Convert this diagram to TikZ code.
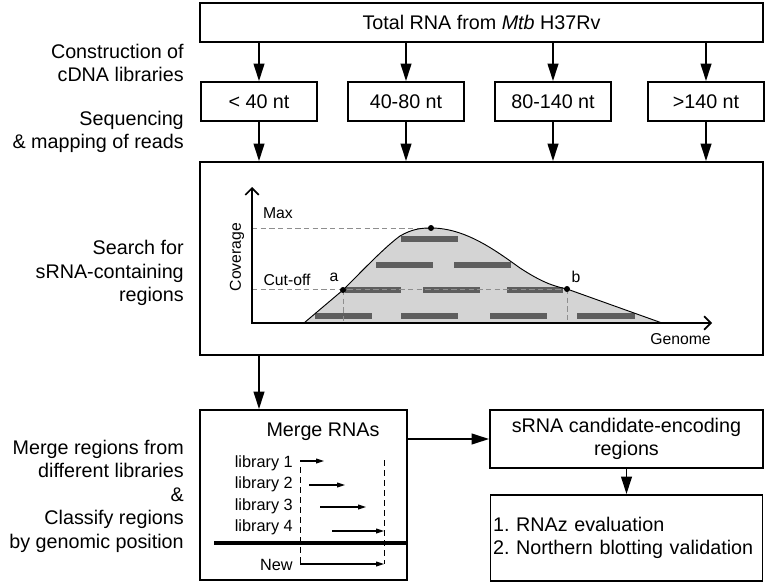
\documentclass[tikz,border=0pt]{standalone}
\usepackage{fontspec}
\setmainfont{Liberation Sans}
\usetikzlibrary{arrows.meta}
\definecolor{areagray}{HTML}{D4D4D4}
\definecolor{readgray}{HTML}{5E5E5E}
\definecolor{guidegray}{HTML}{8E8E8E}
\frenchspacing
\begin{document}
\begin{tikzpicture}
        [x=0.75pt, y=-0.75pt,
         box_style/.style={draw=black, line width=1.4pt, minimum height=29.25pt, inner sep=2pt,
                           font=\fontsize{14.8pt}{17.6pt}\selectfont},
         step_style/.style={anchor=east, align=right, inner sep=0pt,
                            font=\fontsize{14.8pt}{17.6pt}\selectfont},
         chart_label/.style={inner sep=0pt, font=\fontsize{11.8pt}{14pt}\selectfont},
         lib_label/.style={anchor=east, inner sep=0pt, font=\fontsize{12.2pt}{14pt}\selectfont},
         arrow_style/.style={draw=black, line width=1.3pt, -{Triangle[length=13pt, width=8pt]}},
         axis_style/.style={draw=black, line width=1.3pt, {Straight Barb[length=5pt, width=10pt]}-{Straight Barb[length=5pt, width=10pt]}},
         guide_style/.style={draw=guidegray, line width=0.6pt, dash pattern=on 4pt off 2.5pt},
         read_style/.style={fill=readgray},
         lib_arrow/.style={draw=black, line width=0.9pt, -{Triangle[length=6pt, width=3.6pt]}},
         merge_dash/.style={draw=black, line width=0.7pt, dash pattern=on 4.5pt off 3pt}]
            \useasboundingbox (0,0) rectangle (768,585);
            % boxes of the pipeline
            \node[box_style, minimum width=422.25pt] (total) at (481.5,22.5) {Total RNA from \textit{Mtb} H37Rv};
            \node[box_style, minimum width=87pt] (lib40) at (259,101.5) {< 40 nt};
            \node[box_style, minimum width=87pt] (lib80) at (406,101.5) {40-80 nt};
            \node[box_style, minimum width=87pt] (lib140) at (553,101.5) {80-140 nt};
            \node[box_style, minimum width=87pt] (libbig) at (706,101.5) {>140 nt};
            \node[box_style, minimum width=422.25pt, minimum height=144.75pt] (search) at (481.5,258.5) {};
            \node[box_style, minimum width=155.25pt, minimum height=127.5pt] (merge) at (303.5,495) {};
            \node[box_style, minimum width=204.75pt, minimum height=43.5pt, align=center] (srna) at (626.5,439) {sRNA candidate-encoding\\regions};
            \node[box_style, text width=200pt, minimum height=64.5pt, align=left] (rnaz) at (626.5,538) {1. RNAz evaluation\\2. Northern blotting validation};
            % step labels
            \node[step_style] (construct) at (184,63) {Construction of\\cDNA libraries};
            \node[step_style] (sequence) at (184,132) {Sequencing\\\& mapping of reads};
            \node[step_style] (searchlabel) at (184,273) {Search for\\sRNA-containing\\regions};
            \node[step_style] (mergelabel) at (184,496) {Merge regions from\\different libraries\\\&\\Classify regions\\by genomic position};
            % arrows between boxes
            \draw[arrow_style] (total.south -| lib40) -- (lib40);
            \draw[arrow_style] (total.south -| lib80) -- (lib80);
            \draw[arrow_style] (total.south -| lib140) -- (lib140);
            \draw[arrow_style] (total.south -| libbig) -- (libbig);
            \draw[arrow_style] (lib40) -- (search.north -| lib40);
            \draw[arrow_style] (lib80) -- (search.north -| lib80);
            \draw[arrow_style] (lib140) -- (search.north -| lib140);
            \draw[arrow_style] (libbig) -- (search.north -| libbig);
            \draw[arrow_style] (search.south -| lib40) -- (merge.north -| lib40);
            \draw[arrow_style] (merge.east |- srna) -- (srna);
            \draw[arrow_style] (srna) -- (rnaz);
            % coverage plot
            \coordinate (origin) at (252,323);
            \coordinate (ytip) at (252,187);
            \coordinate (xtip) at (712,323);
            \coordinate (pa) at (343,290);
            \coordinate (pmax) at (431,228);
            \coordinate (pb) at (567,289);
            \coordinate (pstart) at (304,323);
            \coordinate (pend) at (662,323);
            \fill[areagray] (pstart) -- (pa) .. controls (365,268) and (385,247) .. (400,236)
                .. controls (412,229) and (421,228) .. (pmax)
                .. controls (465,228) and (495,250) .. (520,268)
                .. controls (540,281) and (552,286) .. (pb) -- (pend) -- cycle;
            \fill[read_style] (401,236) rectangle (458,242);
            \fill[read_style] (376,262) rectangle (433,268);
            \fill[read_style] (454,262) rectangle (511,268);
            \fill[read_style] (345,287) rectangle (401,293);
            \fill[read_style] (423,287) rectangle (480,293);
            \fill[read_style] (507,287) rectangle (563,293);
            \fill[read_style] (315,313) rectangle (372,319);
            \fill[read_style] (401,313) rectangle (458,319);
            \fill[read_style] (490,313) rectangle (547,319);
            \fill[read_style] (577,313) rectangle (635,319);
            \draw[guide_style] (origin |- pmax) -- (pmax);
            \draw[guide_style] (origin |- pb) -- (pb);
            \draw[guide_style] (pa) -- (pa |- origin);
            \draw[guide_style] (pb) -- (pb |- origin);
            \draw[line width=0.7pt] (pstart) -- (pa) .. controls (365,268) and (385,247) .. (400,236)
                .. controls (412,229) and (421,228) .. (pmax)
                .. controls (465,228) and (495,250) .. (520,268)
                .. controls (540,281) and (552,286) .. (pb) -- (pend);
            \draw[axis_style] (ytip) -- (origin) -- (xtip);
            \fill (pa) circle (3);
            \fill (pmax) circle (3);
            \fill (pb) circle (3);
            \node[chart_label] (maxlabel) at (278,213) {Max};
            \node[chart_label] (cutlabel) at (287,280) {Cut-off};
            \node[chart_label] (alabel) at (334,277) {a};
            \node[chart_label] (blabel) at (576,277) {b};
            \node[chart_label, anchor=east] (genome) at (711,339) {Genome};
            \node[chart_label, rotate=90] (coverage) at (237,257) {Coverage};
            % merging of the libraries
            \node[inner sep=0pt, font=\fontsize{14.8pt}{17.6pt}\selectfont] (mergetitle) at (323,432) {Merge RNAs};
            \node[lib_label] (lib1) at (293,463) {library 1};
            \node[lib_label] (lib2) at (293,484) {library 2};
            \node[lib_label] (lib3) at (293,506) {library 3};
            \node[lib_label] (lib4) at (293,527) {library 4};
            \node[lib_label] (newlabel) at (293,565) {New};
            \coordinate (n1s) at (300,461);
            \coordinate (n1e) at (324,461);
            \coordinate (n2s) at (309,485);
            \coordinate (n2e) at (345,485);
            \coordinate (n3s) at (320,507);
            \coordinate (n3e) at (366,507);
            \coordinate (n4s) at (332,531);
            \coordinate (n4e) at (384,531);
            \coordinate (news) at (300,564);
            \coordinate (newe) at (384,564);
            \coordinate (dashl) at (300,467);
            \coordinate (dashr) at (384,460);
            \coordinate (barl) at (214,543);
            \draw[merge_dash] (dashl) -- (dashl |- news);
            \draw[merge_dash] (dashr) -- (dashr |- news);
            \draw[lib_arrow] (n1s) -- (n1e);
            \draw[lib_arrow] (n2s) -- (n2e);
            \draw[lib_arrow] (n3s) -- (n3e);
            \draw[lib_arrow] (n4s) -- (n4e);
            \draw[lib_arrow] (news) -- (newe);
            \draw[line width=2.4pt] (barl) -- (barl -| merge.east);
        \end{tikzpicture}
\end{document}
